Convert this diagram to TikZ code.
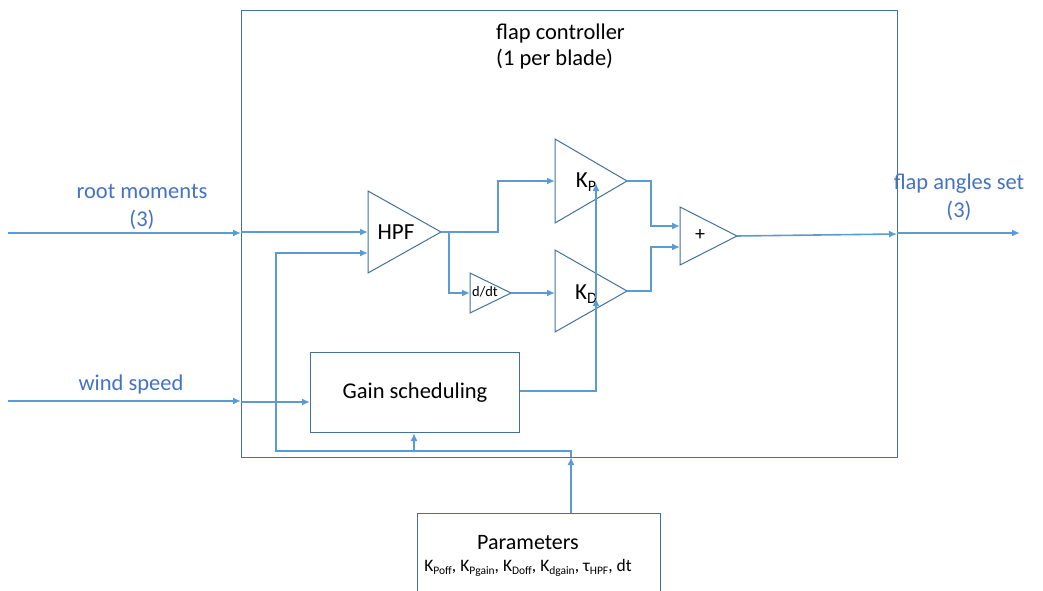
\documentclass[tikz,border=0pt]{standalone}
\usepackage{fontspec}
\setmainfont{Carlito}
\usetikzlibrary{arrows.meta}
\definecolor{wire}{HTML}{5B9BD5}
\definecolor{edge}{HTML}{41719C}
\definecolor{lbl}{HTML}{4472C4}
\newcommand{\lowsub}[2]{\raisebox{-0.35ex}{\fontsize{#1}{#1}\selectfont #2}}
\tikzset{
  thickw/.style={draw=wire, line width=2.9pt, -{Latex[length=8pt,width=7pt]}},
  thinw/.style={draw=wire, line width=1.6pt, -{Latex[length=8pt,width=7pt]}},
  plainw/.style={draw=wire, line width=2.9pt},
  box/.style={draw=edge, line width=1pt, inner sep=0pt},
  tri/.style={draw=edge, line width=1pt, line join=miter},
  lab/.style={text=lbl, font=\fontsize{22.5}{27.5}\selectfont, align=center, inner sep=0pt},
  txt/.style={text=black, inner sep=0pt},
}
\begin{document}
\begin{tikzpicture}[x=1pt,y=-1pt]
\useasboundingbox (0,0) rectangle (1043,591);
% boxes
\node (fc) [box, anchor=north west, minimum width=656pt, minimum height=447pt] at (241,10) {};
\node (gs) [box, anchor=north west, minimum width=209pt, minimum height=80pt,
  font=\fontsize{22.5}{26}\selectfont] at (310,352) {Gain scheduling};
\node (par) [box, anchor=north west, minimum width=243pt, minimum height=95pt] at (417,513) {};
\node (partxt) [txt, font=\fontsize{22}{26}\selectfont] at (528,543) {Parameters};
\node (parlist) [txt, font=\fontsize{17.5}{20}\selectfont] at (528,568)
  {K\lowsub{11.5}{Poff}, K\lowsub{11.5}{Pgain}, K\lowsub{11.5}{Doff}, K\lowsub{11.5}{dgain}, τ\lowsub{11.5}{HPF}, dt};
\node (title) [txt, anchor=west, align=left, font=\fontsize{22.5}{26.5}\selectfont] at (496,46.5)
  {flap controller\\(1 per blade)};
% triangles
\draw[tri] (368,191) -- (441,232) -- (368,273) -- cycle;
\draw[tri] (470,273) -- (511,293) -- (470,313) -- cycle;
\draw[tri] (555,139) -- (627,181) -- (555,223) -- cycle;
\draw[tri] (555,250) -- (627,291) -- (555,332) -- cycle;
\draw[tri] (680,207) -- (737,236) -- (680,265) -- cycle;
\node (hpf) [txt, font=\fontsize{23}{26}\selectfont] at (396,232) {HPF};
\node (ddt) [txt, font=\fontsize{14.5}{16}\selectfont] at (485,292) {d/dt};
\node (kp) [txt, font=\fontsize{23}{26}\selectfont] at (586,182) {K\lowsub{16}{P}};
\node (kd) [txt, font=\fontsize{23}{26}\selectfont] at (586,294) {K\lowsub{16}{D}};
\node (sum) [txt, font=\fontsize{20}{22}\selectfont] at (700,235) {+};
% ports
\coordinate (hpfin1) at (368,232);
\coordinate (hpfin2) at (368,253);
\coordinate (hpfout) at (441,232);
\coordinate (ddtin) at (470,293);
\coordinate (ddtout) at (511,293);
\coordinate (kpin) at (555,181);
\coordinate (kpout) at (627,181);
\coordinate (kdin) at (555,293);
\coordinate (kdout) at (627,291);
\coordinate (sumin1) at (680,226);
\coordinate (sumin2) at (680,247);
\coordinate (sumout) at (737,236);
\coordinate (rmsrc) at (8,233);
\coordinate (wssrc) at (8,401);
\coordinate (fasink) at (1020,233);
\coordinate (kpgain) at (596,183);
\coordinate (kdgain) at (596,298);
% labels
\node (rmlab) [lab] at (142,207) {root moments\\(3)};
\node (wslab) [lab] at (131,384) {wind speed};
\node (falab) [lab] at (959,197) {flap angles set\\(3)};
% inputs
\draw[thickw] (rmsrc) -- (rmsrc -| fc.west);
\draw[thinw] (241,232) -- (hpfin1);
\draw[thickw] (wssrc) -- (wssrc -| fc.west);
\draw[thinw] (241,402) -- (gs.west |- 0,402);
% HPF outputs
\draw[thickw] (hpfout) -- (498,232) -- (498,181) -- (kpin);
\draw[thickw] (449,232) -- (449,293) -- (ddtin);
\draw[thickw] (ddtout) -- (kdin);
% gain scheduling to gains
\draw[thickw] (gs.east |- 0,391) -- (596,391) -- (kdgain);
\draw[thickw] (kdgain) -- (kpgain);
% gains to sum
\draw[thickw] (kpout) -- (651,181) -- (651,226) -- (sumin1);
\draw[thickw] (kdout) -- (651,291) -- (651,247) -- (sumin2);
% output
\draw[thinw] (sumout) -- (897,234);
\draw[thickw] (897,233) -- (fasink);
% parameters feedback
\draw[thickw] (par.north -| 571,0) -- (571,457);
\draw[plainw] (571,457) -- (571,451) -- (414,451);
\draw[thickw] (414,451) -- (gs.south -| 414,0);
\draw[thickw] (414,451) -- (276,451) -- (276,253) -- (hpfin2);
\end{tikzpicture}
\end{document}
